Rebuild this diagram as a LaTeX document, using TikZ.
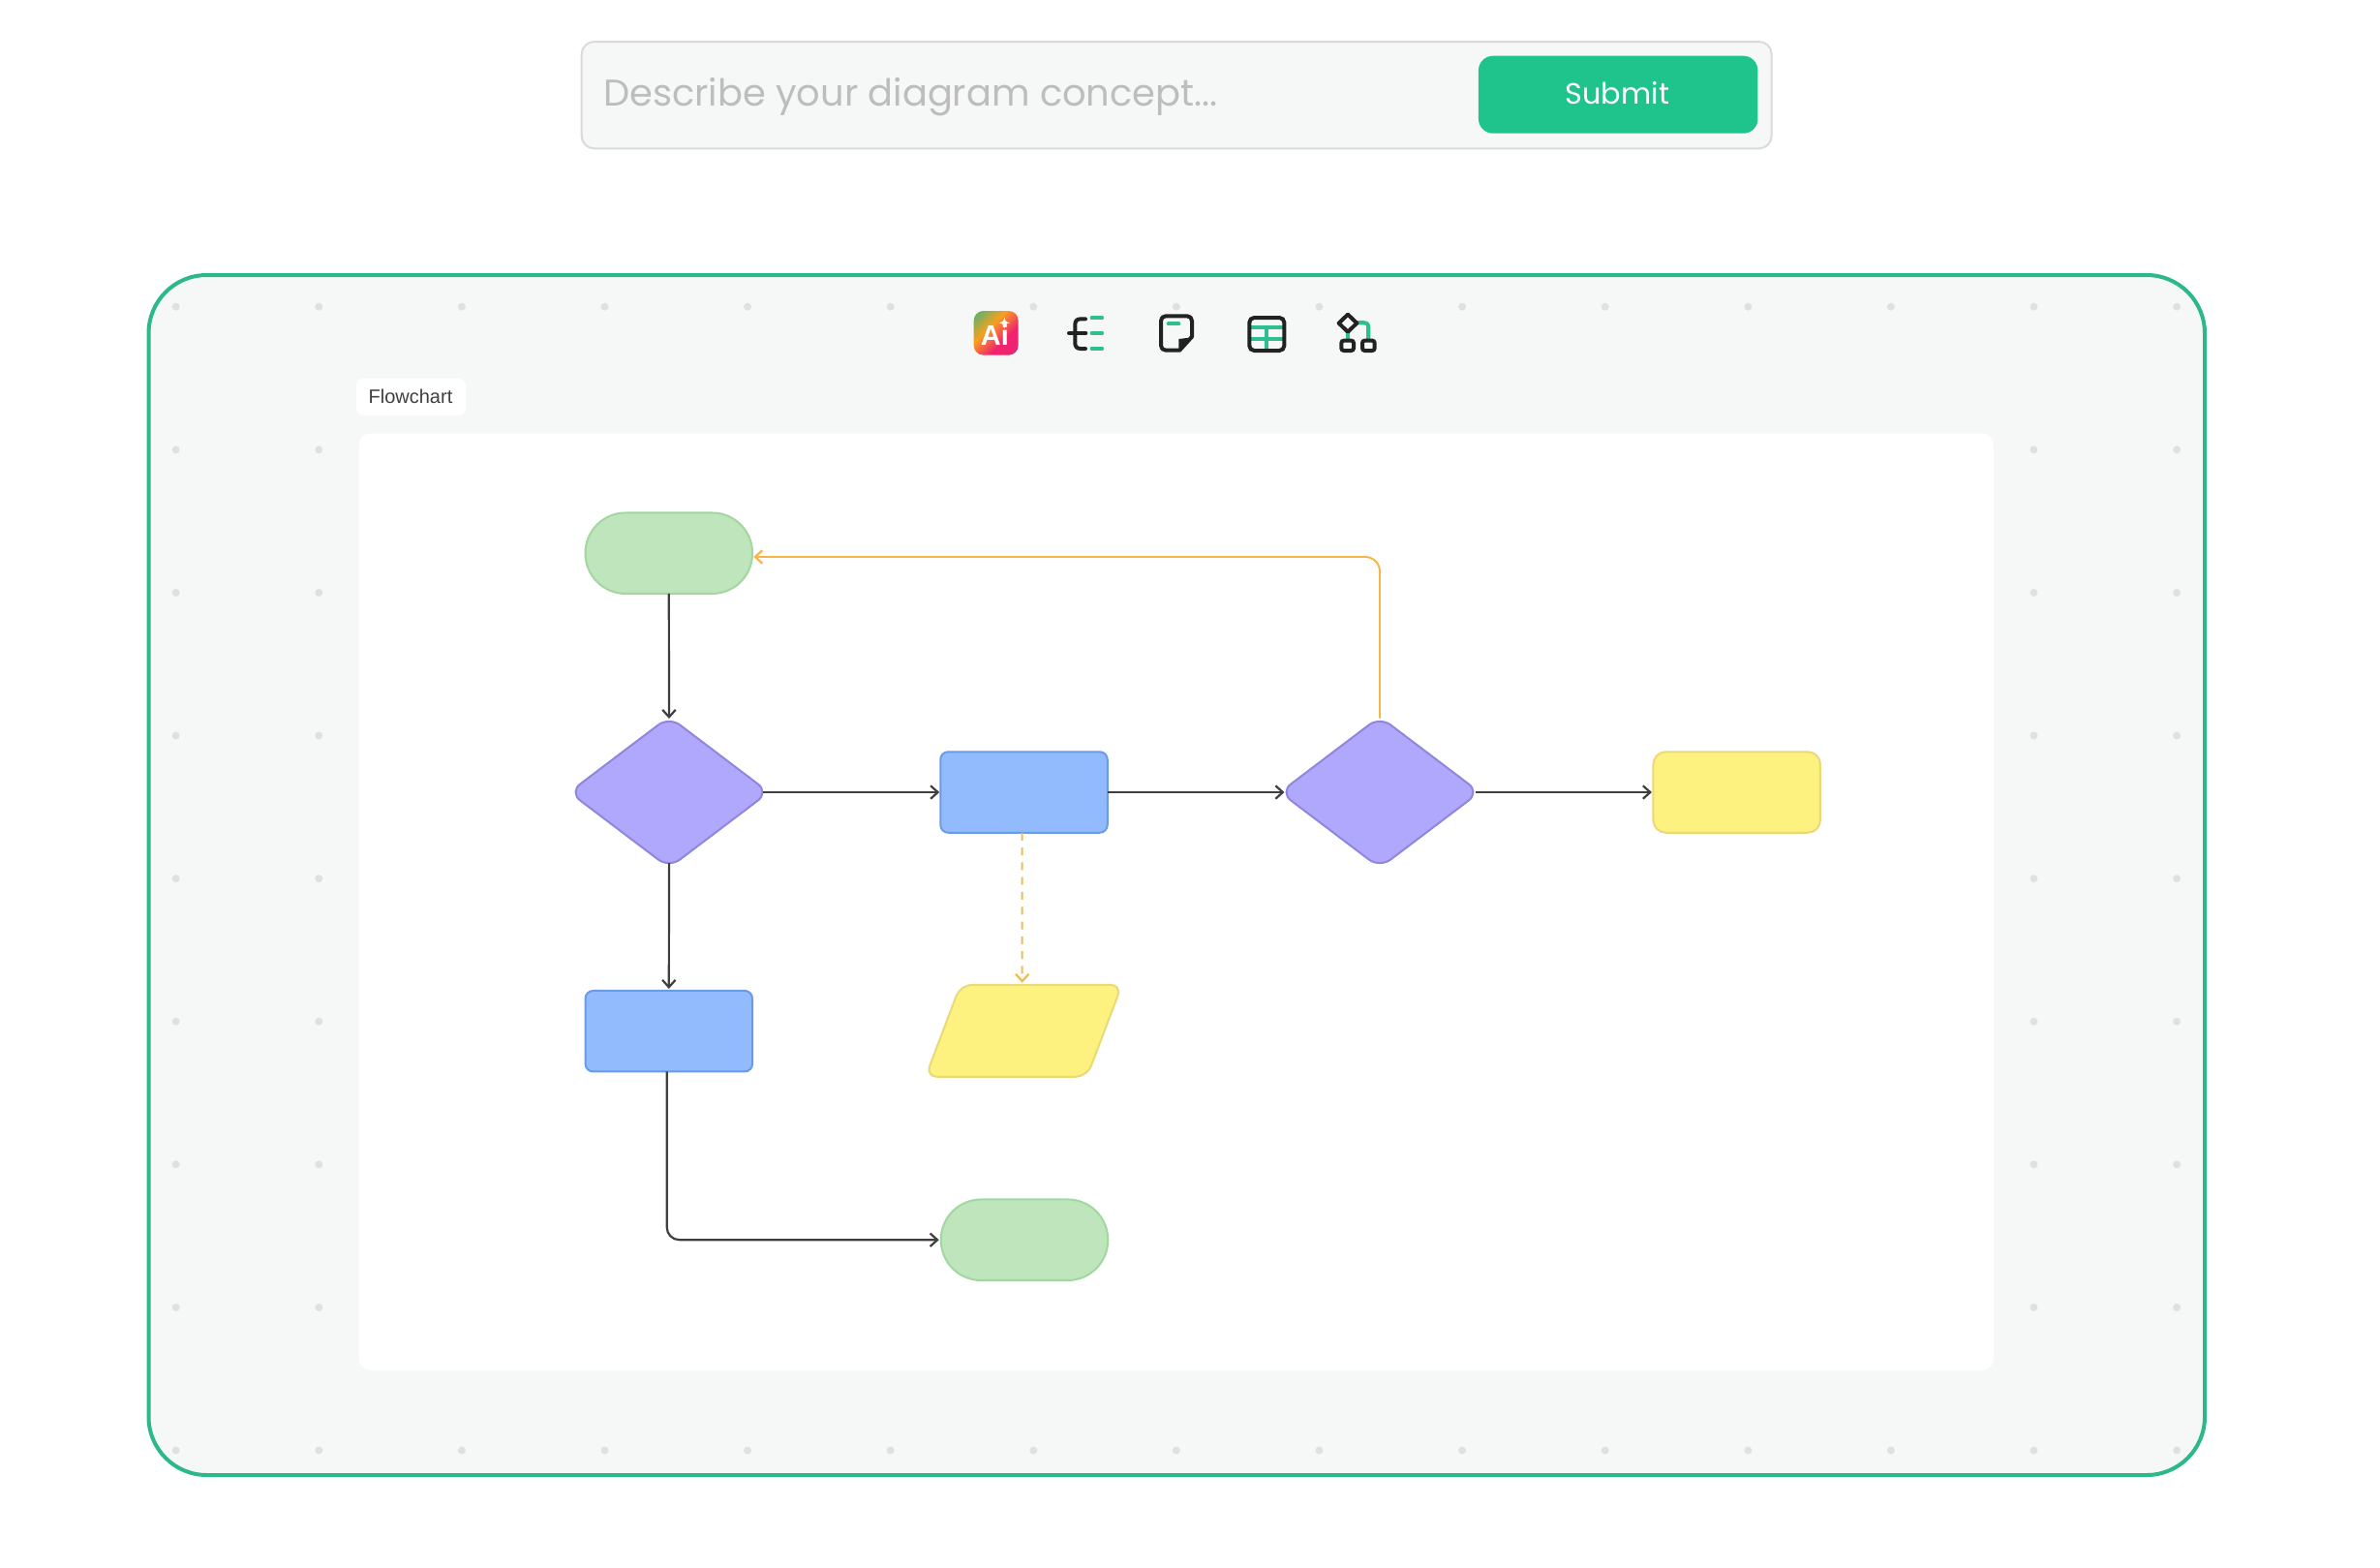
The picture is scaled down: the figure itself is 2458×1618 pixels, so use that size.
\documentclass[tikz,border=0pt]{standalone}
\usepackage{fontspec}
\setmainfont{Liberation Sans}
\newfontfamily\uifont{Poppins}
\usetikzlibrary{shapes.geometric,arrows.meta}
\definecolor{panelbg}{HTML}{F6F8F7}
\definecolor{framec}{HTML}{2DB88C}
\definecolor{submitc}{HTML}{1EC48B}
\definecolor{barline}{HTML}{DADADA}
\definecolor{holder}{HTML}{BDBDBD}
\definecolor{dotc}{HTML}{DFE1E1}
\definecolor{darkline}{HTML}{3F3F3F}
\definecolor{orangeline}{HTML}{F6B545}
\definecolor{dashline}{HTML}{F0BC52}
\definecolor{greenfill}{HTML}{BEE5BC}
\definecolor{greenedge}{HTML}{A2D7A0}
\definecolor{violetfill}{HTML}{AFA8FC}
\definecolor{violetedge}{HTML}{8F86DD}
\definecolor{bluefill}{HTML}{91BBFD}
\definecolor{blueedge}{HTML}{6C9BE6}
\definecolor{yellowfill}{HTML}{FDF17F}
\definecolor{yellowedge}{HTML}{EAD977}
\definecolor{iconink}{HTML}{222222}
\definecolor{icongreen}{HTML}{2FBE8F}
\definecolor{aig}{HTML}{5FB26E}
\definecolor{aio}{HTML}{F8A01E}
\definecolor{aip}{HTML}{F0246E}
\definecolor{aiv}{HTML}{7458CC}
\pgfdeclarehorizontalshading{aigrad}{100bp}{color(0bp)=(aig);color(18bp)=(aig);color(40bp)=(aio);color(62bp)=(aip);color(76bp)=(aip);color(88bp)=(aiv);color(100bp)=(aiv)}
\tikzset{
  x=1pt,y=-1pt,
  shapebase/.style={draw,line width=2pt,inner sep=0pt,outer sep=0pt},
  terminator/.style={shapebase,rectangle,rounded corners=41.5pt,minimum width=172.5pt,minimum height=83.5pt,fill=greenfill,draw=greenedge},
  decision/.style={shapebase,diamond,rounded corners=14pt,minimum width=206pt,minimum height=156pt,aspect=1.32,fill=violetfill,draw=violetedge},
  process/.style={shapebase,rectangle,rounded corners=8pt,minimum width=172.5pt,minimum height=83.5pt,fill=bluefill,draw=blueedge},
  yellowbox/.style={shapebase,rectangle,rounded corners=13pt,minimum width=172.5pt,minimum height=83.5pt,fill=yellowfill,draw=yellowedge},
  databox/.style={shapebase,inner sep=2pt,trapezium,trapezium left angle=75,trapezium right angle=105,trapezium stretches=true,rounded corners=12pt,minimum width=203pt,minimum height=95pt,fill=yellowfill,draw=yellowedge},
  barb/.style={-{Straight Barb[length=7.5pt,width=13.5pt,line width=2.2pt]}},
  flowline/.style={barb,draw=darkline,line width=2.2pt},
  backline/.style={barb,draw=orangeline,line width=1.9pt},
  dashflow/.style={barb,draw=dashline,line width=2pt,dash pattern=on 8pt off 7.3pt},
  griddot/.style={fill=dotc,draw=none,circle,minimum size=8pt,inner sep=0pt},
  iconstroke/.style={draw=iconink,line width=4pt,line cap=round,line join=round},
  icongreenline/.style={draw=icongreen,line width=4.2pt,line cap=round},
}
\begin{document}
\begin{tikzpicture}
\useasboundingbox (0,0) rectangle (2458,1618);
\fill[white] (0,0) rectangle (2458,1618);

% search bar
\draw[fill=panelbg,draw=barline,line width=2pt,rounded corners=13pt] (600.7,43) rectangle (1829.6,153.3);
\node[anchor=base west,inner sep=0pt,text=holder,font=\uifont\fontsize{38.4}{46}\selectfont] (placeholder) at (623,109.3) {Describe your diagram concept...};
\node[fill=submitc,rounded corners=15pt,minimum width=288.5pt,minimum height=80pt,inner sep=0pt,outer sep=0pt] (submit) at (1671.2,97.7) {};
\node[anchor=base,inner sep=0pt,text=white,font=\uifont\fontsize{30.3}{38}\selectfont] (submittext) at (1670.4,107.7) {Submit};

% frame
\draw[fill=panelbg,draw=framec,line width=4pt,rounded corners=60pt] (153.5,284) rectangle (2277,1523);
\foreach \i in {0,...,14}{\foreach \j in {0,...,8}{
  \node[griddot] (dot\i-\j) at ({181.7+147.6*\i},{316.7+147.6*\j}) {};
}}

% panel and tab
\fill[white,rounded corners=12pt] (370.5,447.5) rectangle (2059,1414.5);
\node[fill=white,rounded corners=8pt,minimum width=113pt,minimum height=38.5pt,inner sep=0pt,outer sep=0pt] (tab) at (424.5,410) {};
\node[inner sep=0pt,text=darkline,font=\fontsize{20}{24}\selectfont] (tabtext) at (424,409) {Flowchart};

% toolbar icons, drawn in the coordinates of a 3x crop
\begin{scope}[shift={(980,300)},x=0.33333pt,y=-0.33333pt]
  % Ai
  \shade[shading=aigrad,shading angle=-45,rounded corners=10pt] (77,63) rectangle (215,200);
  \node[anchor=base,inner sep=0pt,text=white,font=\bfseries\fontsize{29}{30}\selectfont] (aitext) at (142,168) {Ai};
  \fill[white] (172,82) .. controls (174,95) and (177,98) .. (190,100) .. controls (177,102) and (174,105) .. (172,118) .. controls (170,105) and (167,102) .. (154,100) .. controls (167,98) and (170,95) .. (172,82) -- cycle;
  % outline
  \draw[iconstroke] (423,88) -- (408,88) .. controls (396,88) and (391,95) .. (391,105) -- (391,163) .. controls (391,173) and (396,180) .. (408,180) -- (423,180);
  \draw[iconstroke] (372,132) -- (424,132);
  \draw[icongreenline] (443,85) -- (474,85);
  \draw[icongreenline] (443,132) -- (474,132);
  \draw[icongreenline] (443,179) -- (474,179);
  % sticky note
  \draw[iconstroke] (715,185) -- (672,185) .. controls (663,185) and (657,179) .. (657,170) -- (657,94) .. controls (657,85) and (663,79) .. (672,79) -- (738,79) .. controls (747,79) and (753,85) .. (753,94) -- (753,143) -- cycle;
  \fill[iconink] (712,186) -- (712,150) -- (754,145) -- cycle;
  \draw[icongreenline] (680,103) -- (712,103);
  % table
  \draw[icongreenline,line cap=butt] (932,113) -- (1038,113);
  \draw[icongreenline,line cap=butt] (932,151) -- (1038,151);
  \draw[icongreenline,line cap=butt] (985,113) -- (985,185);
  \draw[draw=iconink,line width=4pt,rounded corners=5pt] (931,84) rectangle (1039,186);
  % shapes
  \draw[icongreenline,line cap=butt] (1236,125) -- (1236,155);
  \draw[icongreenline,line cap=butt] (1262,100) -- (1285,100) .. controls (1295,100) and (1300,105) .. (1300,115) -- (1300,155);
  \draw[iconstroke] (1236,74) -- (1264,101) -- (1236,128) -- (1208,101) -- cycle;
  \draw[draw=iconink,line width=4pt,rounded corners=2.5pt] (1216,155) rectangle (1254,186);
  \draw[draw=iconink,line width=4pt,rounded corners=2.5pt] (1281,155) rectangle (1319,186);
\end{scope}

% flowchart nodes
\node[terminator] (start) at (690.8,571.2) {};
\node[decision] (d1) at (691,818) {};
\node[process] (p1) at (1057.5,818) {};
\node[decision] (d2) at (1425,818) {};
\node[yellowbox] (yes) at (1793.7,818) {};
\node[process] (p2) at (690.8,1064.7) {};
\node[databox] (data) at (1057.3,1064.3) {\phantom{x}};
\node[terminator] (stop) at (1058,1280.2) {};

% connectors
\draw[flowline,shorten >=-2pt] (start.south) -- (d1.north);
\draw[flowline,shorten <=-6pt,shorten >=1pt] (d1.east) -- (p1.west);
\draw[flowline,shorten <=-5pt,shorten >=2pt] (d1.south) -- (p2.north);
\draw[flowline,shorten >=-4.5pt] (p1.east) -- (d2.west);
\draw[flowline,shorten <=-4pt,shorten >=1.5pt] (d2.east) -- (yes.west);
\draw[backline,rounded corners=15pt,shorten <=-1.5pt,shorten >=1.2pt] (d2.north) |- ([yshift=-3.8pt]start.east);
\draw[dashflow,shorten >=2pt] ([xshift=-1.8pt]p1.south) -- ([xshift=-1.6pt]data.north);
\draw[flowline,rounded corners=13pt,shorten >=2pt] ([xshift=-2.1pt]p2.south) |- (stop.west);
\end{tikzpicture}
\end{document}
